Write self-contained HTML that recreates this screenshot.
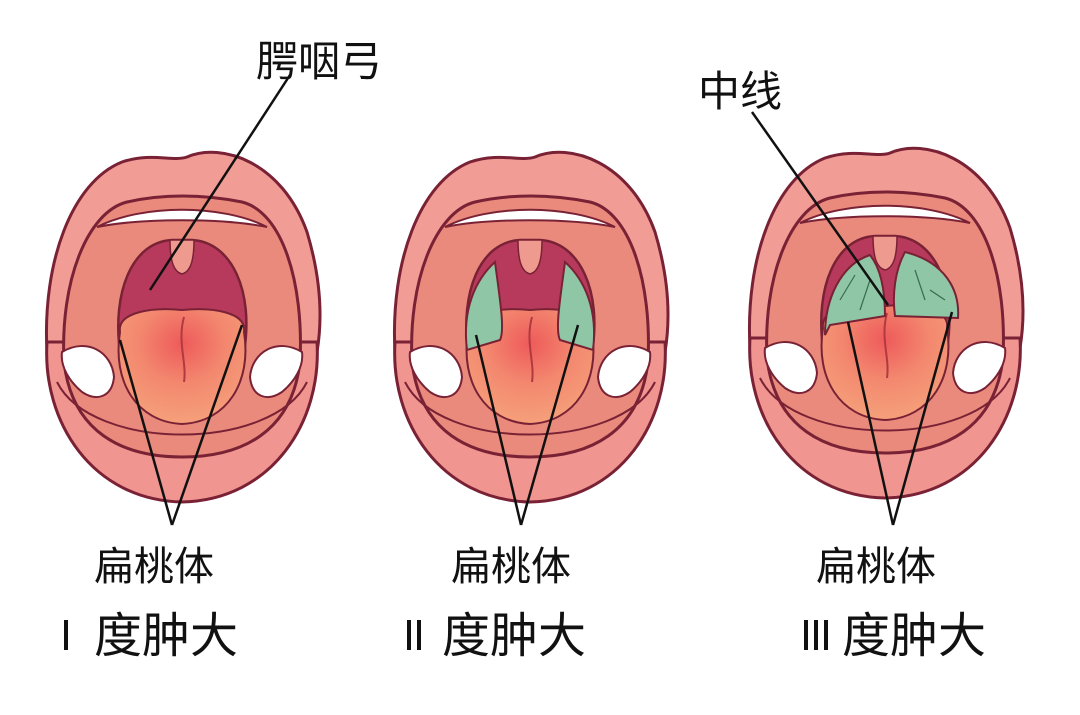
<!DOCTYPE html>
<html><head><meta charset="utf-8"><style>
html,body{margin:0;padding:0;background:#fff;}
svg{display:block}
text{font-family:"Liberation Sans","Noto Sans CJK SC",sans-serif;fill:#111;}
</style></head><body>
<svg width="1080" height="715" viewBox="0 0 1080 715">
<defs>
<radialGradient id="tg" cx="0.5" cy="0.3" r="0.7">
<stop offset="0" stop-color="#ee5a5a"/><stop offset="0.5" stop-color="#f3886f"/><stop offset="1" stop-color="#f5a07a"/>
</radialGradient>
<g id="mouth">
<path d="M-135,30 C-140,-60 -110,-140 -60,-160 C-30,-170 -10,-160 5,-165 C40,-180 100,-160 125,-90 C140,-40 140,0 135,30 Z" fill="#f29c96" stroke="#7a2235" stroke-width="3"/>
<path d="M-135,20 C-140,100 -90,178 0,180 C90,178 140,100 135,20 Z" fill="#f0958f" stroke="#7a2235" stroke-width="3"/>
<path d="M-118,40 C-122,-40 -95,-110 -55,-120 C-20,-128 20,-128 60,-120 C100,-110 122,-40 118,40 C110,110 60,135 0,135 C-60,135 -110,110 -118,40 Z" fill="#e98a7c" stroke="#7a2235" stroke-width="3"/>
<path d="M-85,-95 C-40,-118 40,-118 85,-95 C40,-104 -40,-104 -85,-95 Z" fill="#fff" stroke="#7a2235" stroke-width="2"/>
<path d="M-62,30 C-70,-30 -50,-80 -10,-82 L10,-82 C50,-80 72,-30 62,30 Z" fill="#b73a5c" stroke="#7a2235" stroke-width="2.5"/>
<path d="M-12,-82 C-12,-60 -8,-50 0,-48 C8,-50 12,-60 12,-82 Z" fill="#ef9a8f" stroke="#7a2235" stroke-width="1.5"/>
<path d="M-120,30 C-95,15 -70,30 -68,55 C-70,75 -85,80 -100,70 C-112,60 -122,45 -120,30 Z" fill="#fff" stroke="#7a2235" stroke-width="2"/>
<path d="M120,30 C95,15 70,30 68,55 C70,75 85,80 100,70 C112,60 122,45 120,30 Z" fill="#fff" stroke="#7a2235" stroke-width="2"/>
<path d="M-62,10 C-65,-10 -30,-15 0,-12 C30,-15 65,-10 62,10 C70,60 45,100 0,102 C-45,100 -70,60 -62,10 Z" fill="url(#tg)" stroke="#7a2235" stroke-width="2"/>
<path d="M2,-5 C-5,20 5,40 2,60" fill="none" stroke="#b03a40" stroke-width="2"/>
<path d="M-125,60 C-90,130 90,130 125,60" fill="none" stroke="#7a2235" stroke-width="2"/>
</g>
</defs>

<use href="#mouth" x="182" y="322"/>
<use href="#mouth" x="530" y="322"/>
<use href="#mouth" x="885" y="318"/>

<path d="M467,350 C462,310 475,280 495,262 C500,300 505,330 500,340 Z" fill="#8fc6a5" stroke="#7a2235" stroke-width="2"/>
<path d="M593,350 C598,310 585,280 565,262 C560,300 555,330 560,340 Z" fill="#8fc6a5" stroke="#7a2235" stroke-width="2"/>
<path d="M825,335 C825,300 840,265 870,255 C882,270 885,295 885,316 L830,325 Z" fill="#8fc6a5" stroke="#7a2235" stroke-width="2"/>
<path d="M958,318 C960,290 945,262 905,252 C895,270 892,295 895,316 Z" fill="#8fc6a5" stroke="#7a2235" stroke-width="2"/>
<path d="M840,300 l15,-25 M860,310 l10,-30 M915,270 l10,30 M930,290 l15,10" stroke="#3a6a50" stroke-width="1.2" fill="none"/>

<g stroke="#111" stroke-width="2.5" fill="none">
<line x1="290" y1="75" x2="150" y2="290"/>
<line x1="120" y1="340" x2="172" y2="525"/>
<line x1="242" y1="325" x2="172" y2="525"/>
<line x1="476" y1="335" x2="521" y2="525"/>
<line x1="578" y1="325" x2="521" y2="525"/>
<line x1="848" y1="322" x2="893" y2="525"/>
<line x1="952" y1="312" x2="893" y2="525"/>
<line x1="752" y1="112" x2="888" y2="305"/>
</g>

<text x="256" y="76" font-size="42">腭咽弓</text>
<text x="698" y="106" font-size="42">中线</text>
<text x="94" y="580" font-size="40">扁桃体</text>
<text x="451" y="580" font-size="40">扁桃体</text>
<text x="816" y="580" font-size="40">扁桃体</text>
<g stroke="#111" stroke-width="4">
<line x1="66" y1="620" x2="66" y2="650"/>
<line x1="409" y1="620" x2="409" y2="650"/>
<line x1="419" y1="620" x2="419" y2="650"/>
<line x1="806" y1="620" x2="806" y2="650"/>
<line x1="816" y1="620" x2="816" y2="650"/>
<line x1="826" y1="620" x2="826" y2="650"/>
</g>
<text x="94" y="652" font-size="48">度肿大</text>
<text x="442" y="652" font-size="48">度肿大</text>
<text x="842" y="652" font-size="48">度肿大</text>
</svg>
</body></html>
